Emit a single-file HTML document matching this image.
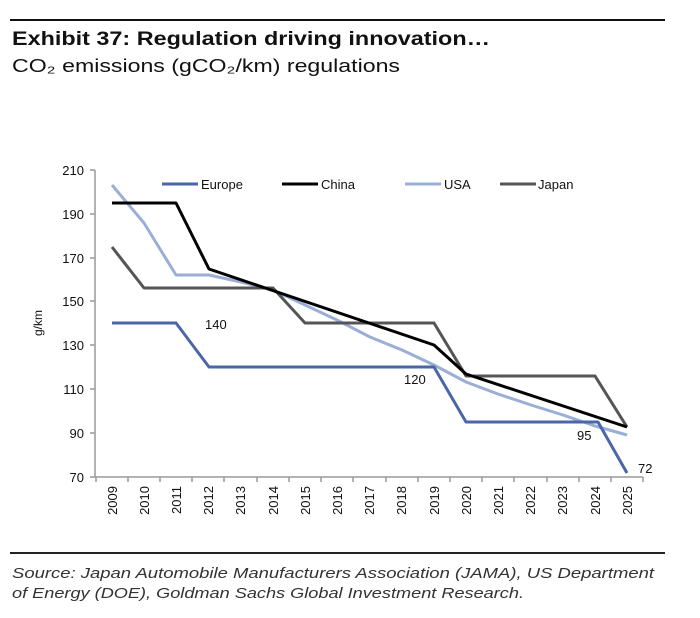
<!DOCTYPE html>
<html><head><meta charset="utf-8"><style>
body{margin:0;background:#fff}
svg{display:block;font-family:"Liberation Sans",Arial,sans-serif}
</style></head><body>
<svg width="700" height="618" viewBox="0 0 700 618">
<line x1="10" y1="20" x2="665" y2="20" stroke="#111" stroke-width="2"/>
<text x="12" y="45" font-size="19" font-weight="bold" fill="#111" textLength="478" lengthAdjust="spacingAndGlyphs">Exhibit 37: Regulation driving innovation…</text>
<text x="12" y="72" font-size="18" fill="#111" textLength="388" lengthAdjust="spacingAndGlyphs">CO₂ emissions (gCO₂/km) regulations</text>
<g stroke="#999" stroke-width="1.5" fill="none">
<line x1="95" y1="170" x2="95" y2="477"/>
<line x1="95" y1="477" x2="643" y2="477"/>
<path d="M90 170H95M90 214H95M90 258H95M90 301H95M90 345H95M90 389H95M90 433H95M90 477H95"/>
<path d="M96 477v5M128 477v5M160 477v5M192 477v5M224 477v5M257 477v5M289 477v5M321 477v5M353 477v5M386 477v5M418 477v5M450 477v5M482 477v5M514 477v5M547 477v5M579 477v5M611 477v5M643 477v5"/>
</g>
<g font-size="13" fill="#111" text-anchor="end">
<text x="84" y="175">210</text><text x="84" y="219">190</text><text x="84" y="263">170</text><text x="84" y="306">150</text><text x="84" y="350">130</text><text x="84" y="394">110</text><text x="84" y="438">90</text><text x="84" y="482">70</text>
</g>
<text transform="translate(42,323) rotate(-90)" font-size="12" text-anchor="middle" fill="#111">g/km</text>
<g font-size="13" fill="#111" text-anchor="end">
<text transform="translate(117,486) rotate(-90)">2009</text>
<text transform="translate(149,486) rotate(-90)">2010</text>
<text transform="translate(181,486) rotate(-90)">2011</text>
<text transform="translate(213,486) rotate(-90)">2012</text>
<text transform="translate(245,486) rotate(-90)">2013</text>
<text transform="translate(278,486) rotate(-90)">2014</text>
<text transform="translate(310,486) rotate(-90)">2015</text>
<text transform="translate(342,486) rotate(-90)">2016</text>
<text transform="translate(374,486) rotate(-90)">2017</text>
<text transform="translate(406,486) rotate(-90)">2018</text>
<text transform="translate(439,486) rotate(-90)">2019</text>
<text transform="translate(471,486) rotate(-90)">2020</text>
<text transform="translate(503,486) rotate(-90)">2021</text>
<text transform="translate(535,486) rotate(-90)">2022</text>
<text transform="translate(567,486) rotate(-90)">2023</text>
<text transform="translate(600,486) rotate(-90)">2024</text>
<text transform="translate(632,486) rotate(-90)">2025</text>
</g>
<g fill="none" stroke-width="3" stroke-linejoin="round">
<polyline stroke="#9aaed6" points="112,185 144,223 176,275 209,275 241,282 273,290 305,305 337,320 370,337 402,350 434,365 466,382 498,394 531,405 563,415 595,426 627,435"/>
<polyline stroke="#555" points="112,247 144,288 176,288 209,288 241,288 273,288 305,323 337,323 370,323 402,323 434,323 466,376 498,376 531,376 563,376 595,376 627,427"/>
<polyline stroke="#000" points="112,203 144,203 176,203 209,269 434,345 466,374 627,427"/>
<polyline stroke="#4a66a8" points="112,323 176,323 209,367 434,367 466,422 598,422 627,473"/>
</g>
<g font-size="13" fill="#111">
<text x="205" y="329">140</text><text x="404" y="384">120</text><text x="577" y="440">95</text><text x="638" y="473">72</text>
</g>
<g stroke-width="3">
<line x1="162" y1="184" x2="198" y2="184" stroke="#4a66a8"/>
<line x1="282" y1="184" x2="318" y2="184" stroke="#000"/>
<line x1="405" y1="184" x2="441" y2="184" stroke="#9aaed6"/>
<line x1="500" y1="184" x2="536" y2="184" stroke="#555"/>
</g>
<g font-size="13" fill="#111">
<text x="201" y="189">Europe</text><text x="321" y="189">China</text><text x="444" y="189">USA</text><text x="538" y="189">Japan</text>
</g>
<line x1="10" y1="553" x2="665" y2="553" stroke="#222" stroke-width="2"/>
<g font-size="15" font-style="italic" fill="#333">
<text x="12" y="578" textLength="642" lengthAdjust="spacingAndGlyphs">Source: Japan Automobile Manufacturers Association (JAMA), US Department</text>
<text x="12" y="598" textLength="512" lengthAdjust="spacingAndGlyphs">of Energy (DOE), Goldman Sachs Global Investment Research.</text>
</g>
</svg>
</body></html>
